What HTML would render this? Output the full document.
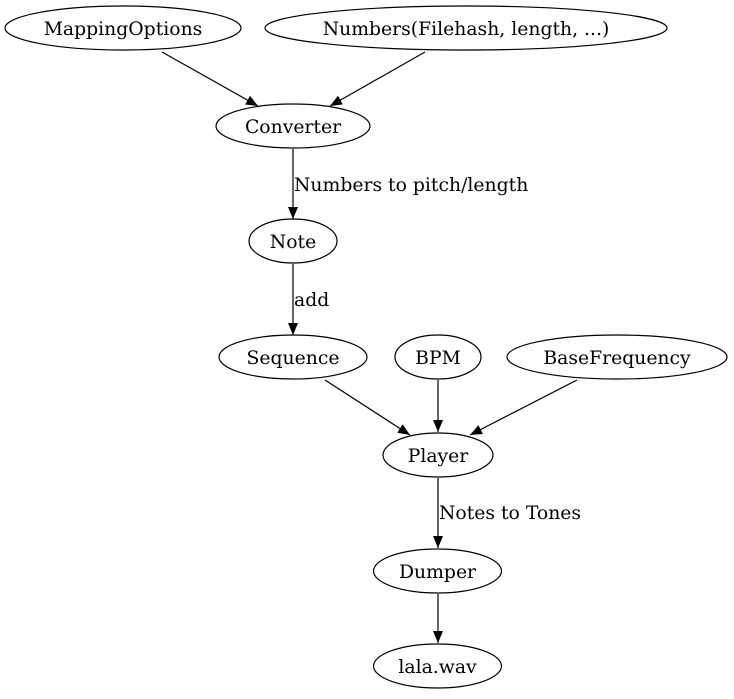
<!DOCTYPE html>
<html><head><meta charset="utf-8"><style>
html,body{margin:0;padding:0;background:#fff;}
svg{display:block;}
text{font-family:"DejaVu Serif","Liberation Serif",serif;font-size:18.8px;fill:#000;}
</style></head><body>
<svg width="734" height="699" viewBox="0 0 734 699" xmlns="http://www.w3.org/2000/svg">
<defs><marker id="a" markerWidth="12" markerHeight="10" refX="12" refY="5" orient="auto" markerUnits="userSpaceOnUse"><path d="M0,0 L12,5 L0,10 z" fill="#000"/></marker></defs>
<g fill="none" stroke="#000" stroke-width="1.2">
<ellipse cx="123" cy="28" rx="118" ry="22"/>
<ellipse cx="466" cy="28" rx="201" ry="22"/>
<ellipse cx="293" cy="126" rx="77" ry="22"/>
<ellipse cx="293" cy="241" rx="44" ry="22"/>
<ellipse cx="293" cy="357" rx="74" ry="22"/>
<ellipse cx="438" cy="357" rx="43" ry="22"/>
<ellipse cx="617" cy="357" rx="110" ry="22"/>
<ellipse cx="438" cy="455" rx="55" ry="22"/>
<ellipse cx="437.5" cy="571" rx="64" ry="22"/>
<ellipse cx="437.5" cy="666" rx="64" ry="22"/>
<g marker-end="url(#a)">
<line x1="162" y1="52" x2="258" y2="106"/>
<line x1="425" y1="52" x2="330" y2="106"/>
<line x1="293" y1="149" x2="293" y2="219"/>
<line x1="293" y1="264" x2="293" y2="335"/>
<line x1="325" y1="380" x2="410" y2="435"/>
<line x1="438" y1="380" x2="438" y2="432"/>
<line x1="577" y1="380" x2="470" y2="435"/>
<line x1="438" y1="478" x2="438" y2="548"/>
<line x1="438" y1="594" x2="438" y2="643"/>
</g></g>
<g text-anchor="middle">
<text x="123" y="35">MappingOptions</text>
<text x="466" y="35">Numbers(Filehash, length, ...)</text>
<text x="293" y="133">Converter</text>
<text x="293" y="248">Note</text>
<text x="293" y="364">Sequence</text>
<text x="438" y="364">BPM</text>
<text x="617" y="364">BaseFrequency</text>
<text x="438" y="462">Player</text>
<text x="437.5" y="578">Dumper</text>
<text x="437.5" y="673">lala.wav</text>
</g>
<text x="294" y="191">Numbers to pitch/length</text>
<text x="294" y="306">add</text>
<text x="439" y="519">Notes to Tones</text>
</svg>
</body></html>
